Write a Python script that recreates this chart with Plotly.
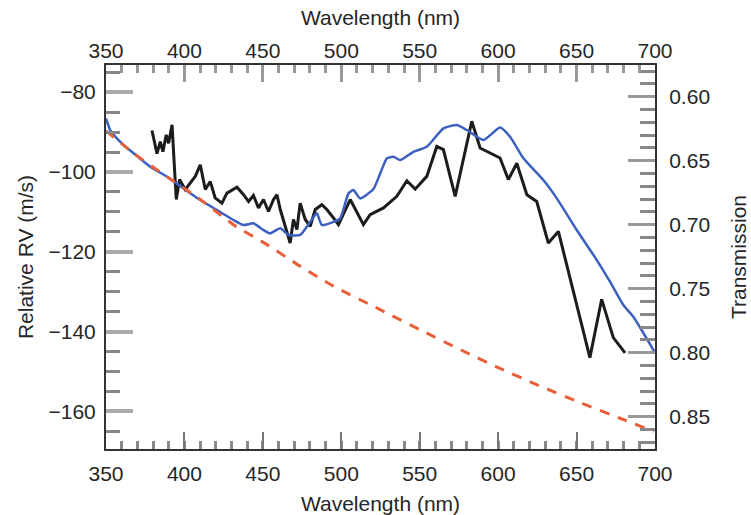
import plotly.graph_objects as go

# Relative radial velocity (black, left axis)
rv_wavelength = [379.3, 382.5, 384.6, 386.3, 388.4, 389.9, 392.1, 394.8, 396.9, 400.5,
                 406.9, 410.1, 413.3, 416.5, 419.6, 423.9, 427.1, 433.5, 437.7, 440.9,
                 444.0, 447.2, 450.4, 453.6, 456.8, 459.0, 461.1, 467.4, 469.5, 471.7,
                 473.8, 477.0, 480.2, 483.4, 487.6, 490.8, 495.0, 498.2, 505.7, 514.1,
                 518.4, 526.9, 535.4, 541.8, 547.1, 554.5, 560.9, 565.1, 572.6, 583.2,
                 588.5, 597.0, 601.2, 606.5, 611.9, 618.3, 624.6, 632.0, 638.4, 658.5,
                 666.0, 673.4, 680.9]
rv_values = [-89.6, -95.4, -92.4, -94.9, -90.7, -92.8, -88.2, -106.9, -101.9, -104.4,
             -101.1, -98.2, -104.4, -102.4, -106.5, -107.8, -105.3, -103.8, -105.7, -107.4,
             -105.9, -109.0, -106.9, -109.9, -106.9, -105.7, -109.4, -117.8, -111.9, -114.4,
             -107.8, -111.9, -113.6, -109.4, -108.2, -109.4, -111.5, -113.2, -106.9, -113.2,
             -110.7, -109.0, -106.1, -102.2, -104.3, -101.1, -93.6, -94.4, -106.1, -87.3,
             -94.0, -95.7, -96.5, -101.9, -97.8, -105.7, -107.4, -117.8, -114.9, -146.5,
             -131.9, -141.5, -145.3]

# Transmission (blue, right axis)
tr_wavelength = [350.0, 352.7, 359.1, 367.6, 378.2, 388.9, 399.4, 410.1, 420.7, 431.3,
                 437.7, 444.0, 450.4, 454.7, 461.1, 466.4, 473.8, 480.2, 484.4, 487.6,
                 495.0, 499.3, 504.6, 507.8, 512.0, 520.5, 529.1, 533.3, 537.5, 546.0,
                 554.5, 565.1, 573.6, 580.0, 590.6, 601.2, 607.6, 616.1, 628.8, 637.4,
                 650.1, 662.9, 671.3, 679.8, 686.2, 700.0]
tr_values = [0.617, 0.626, 0.6352, 0.6442, 0.6547, 0.6625, 0.6716, 0.6807, 0.6885, 0.6963,
             0.7002, 0.6989, 0.7041, 0.7067, 0.7028, 0.708, 0.708, 0.6977, 0.6911, 0.7002,
             0.6977, 0.695, 0.6755, 0.6729, 0.6794, 0.6721, 0.6481, 0.6469, 0.6495, 0.643,
             0.6391, 0.6247, 0.6221, 0.626, 0.6338, 0.6241, 0.6313, 0.6481, 0.6651, 0.6794,
             0.7041, 0.7276, 0.7445, 0.7627, 0.7719, 0.80]

# Model curve (red dashed, left axis)
model_wavelength = [350.0, 367.6, 388.9, 410.1, 431.3, 452.6, 473.8, 495.0, 524.8, 550.6,
                    576.4, 600.0, 626.0, 651.8, 677.7, 699.2]
model_values = [-89.7, -95.3, -101.2, -106.9, -113.2, -118.2, -123.6, -128.6, -134.5, -139.6,
                -144.6, -149.0, -153.5, -157.7, -161.7, -165.0]

x_ticks = [350, 400, 450, 500, 550, 600, 650, 700]
rv_ticks = [-80, -100, -120, -140, -160]
tr_ticks = [0.60, 0.65, 0.70, 0.75, 0.80, 0.85]

FONT = "Liberation Sans"
TXT = "#262626"

fig = go.Figure()

fig.add_trace(go.Scatter(
    x=model_wavelength, y=model_values, xaxis="x2", yaxis="y",
    mode="lines", line=dict(color="#E8603A", width=3, dash="10px,9px", shape="spline", smoothing=0.6),
    hoverinfo="skip", showlegend=False))

fig.add_trace(go.Scatter(
    x=tr_wavelength, y=tr_values, xaxis="x", yaxis="y2",
    mode="lines", line=dict(color="#3C60C0", width=2.5, shape="spline", smoothing=0.5),
    showlegend=False))

fig.add_trace(go.Scatter(
    x=rv_wavelength, y=rv_values, xaxis="x", yaxis="y",
    mode="lines", line=dict(color="#1c1c1c", width=3),
    showlegend=False))

tick_font = dict(family=FONT, size=21, color=TXT)
title_font = dict(family=FONT, size=21, color=TXT)

fig.update_layout(
    width=751, height=515,
    margin=dict(l=106, r=96, t=65, b=66),
    paper_bgcolor="white", plot_bgcolor="white",
    font=dict(family=FONT, color=TXT),
    xaxis=dict(
        range=[350, 700], tickvals=x_ticks, ticks="inside", ticklen=17, tickwidth=2,
        tickcolor="#777777", showgrid=False, zeroline=False, automargin=False,
        showline=True, linecolor="#333333", linewidth=2, mirror=True,
        tickfont=tick_font, ticklabelstandoff=5,
        minor=dict(dtick=10, tick0=350, ticks="inside", ticklen=8, tickwidth=2.5, tickcolor="#888888"),
        title=dict(text="Wavelength (nm)", font=title_font, standoff=19),
    ),
    xaxis2=dict(
        range=[350, 700], tickvals=x_ticks, overlaying="x", side="top", anchor="y",
        ticks="inside", ticklen=17, tickwidth=3, tickcolor="#999999", automargin=False,
        showgrid=False, zeroline=False, showline=False,
        tickfont=tick_font, ticklabelstandoff=2,
        minor=dict(dtick=10, tick0=350, ticks="inside", ticklen=8, tickwidth=3, tickcolor="#999999"),
        title=dict(text="Wavelength (nm)", font=title_font, standoff=7),
    ),
    yaxis=dict(
        range=[-169.4, -73.2], tickvals=rv_ticks, ticks="inside", ticklen=27, tickwidth=4,
        tickcolor="#aaaaaa", showgrid=False, zeroline=False, automargin=False,
        showline=True, linecolor="#333333", linewidth=2,
        tickfont=tick_font, ticklabelstandoff=4,
        minor=dict(dtick=5, tick0=-80, ticks="inside", ticklen=14, tickwidth=3, tickcolor="#888888"),
        title=dict(text="Relative RV (m/s)", font=title_font, standoff=9),
    ),
    yaxis2=dict(
        range=[0.8752, 0.5752], tickvals=tr_ticks, tickformat=".2f", overlaying="y", side="right",
        anchor="x", ticks="inside", ticklen=27, tickwidth=3, tickcolor="#999999", automargin=False,
        showgrid=False, zeroline=False, showline=True, linecolor="#333333", linewidth=2,
        tickfont=tick_font, ticklabelstandoff=8,
        minor=dict(dtick=0.01, tick0=0.6, ticks="inside", ticklen=15, tickwidth=3, tickcolor="#888888"),
        title=dict(text="Transmission", font=title_font, standoff=22),
    ),
)

fig.write_html("out.html")
